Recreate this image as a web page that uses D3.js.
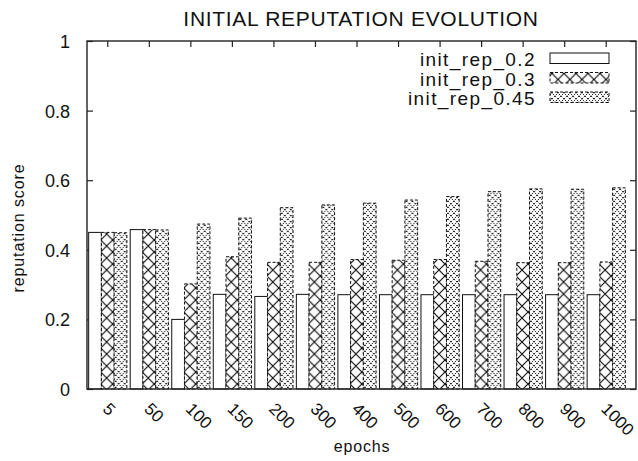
<!DOCTYPE html>
<html lang="en">
<head>
<meta charset="UTF-8">
<title>Initial reputation evolution</title>
<style>
  body { margin: 0; background: #fff; }
  svg text { font-family: "Liberation Sans", Arial, Helvetica, sans-serif; fill: #111; }
</style>
</head>
<body>
<div id="chart"></div>
<script src="https://d3js.org/d3.v7.min.js"></script>
<script>
// values
const epochs = ["5", "50", "100", "150", "200", "300", "400", "500", "600", "700", "800", "900", "1000"];
const seriesNames = ["init_rep_0.2", "init_rep_0.3", "init_rep_0.45"];
const rep02  = [0.450, 0.458, 0.200, 0.272, 0.266, 0.272, 0.271, 0.271, 0.271, 0.271, 0.271, 0.271, 0.271];
const rep03  = [0.450, 0.458, 0.302, 0.380, 0.364, 0.364, 0.372, 0.370, 0.372, 0.367, 0.363, 0.363, 0.365];
const rep045 = [0.449, 0.457, 0.474, 0.491, 0.521, 0.529, 0.534, 0.543, 0.553, 0.567, 0.575, 0.574, 0.578];
const yTicks = [0, 0.2, 0.4, 0.6, 0.8, 1];
const yTickLabels = ["0", "0.2", "0.4", "0.6", "0.8", "1"];

const width = 638, height = 461;
const frame = {left: 87, right: 636, top: 41, bottom: 389};

const svg = d3.select("#chart")
  .append("svg")
    .attr("width", width)
    .attr("height", height);

// fill patterns for the two hatched series
const defs = svg.append("defs");
const cross = defs.append("pattern")
    .attr("id", "cross")
    .attr("patternUnits", "userSpaceOnUse")
    .attr("width", 12).attr("height", 12);
cross.append("rect").attr("width", 12).attr("height", 12).attr("fill", "#fff");
cross.append("path")
    .attr("d", "M-1,-1L13,13M13,-1L-1,13")
    .attr("stroke", "#111").attr("stroke-width", 1.2);

const dense = defs.append("pattern")
    .attr("id", "dense")
    .attr("patternUnits", "userSpaceOnUse")
    .attr("width", 6).attr("height", 6);
dense.append("rect").attr("width", 6).attr("height", 6).attr("fill", "#fff");
dense.append("path")
    .attr("d", "M-1,-1L7,7M7,-1L-1,7")
    .attr("stroke", "#111").attr("stroke-width", 0.9)
    .attr("stroke-dasharray", "1.8,1");

const fills = ["#fff", "url(#cross)", "url(#dense)"];
const dashes = [null, "3,2", "3,2"];

// scales
const x = d3.scaleBand()
  .domain(epochs)
  .range([frame.left, 627])
  .paddingInner(0.08)
  .paddingOuter(0.04);
const xs = d3.scaleBand()
  .domain(seriesNames)
  .range([0, x.bandwidth()]);
const y = d3.scaleLinear()
  .domain([0, 1])
  .range([frame.bottom, frame.top]);

// axes, ticks pointing inward on all four sides
const leftAxis = svg.append("g")
    .attr("transform", `translate(${frame.left},0)`)
    .call(d3.axisLeft(y).tickValues(yTicks).tickFormat((d, i) => yTickLabels[i])
      .tickSizeInner(-6).tickSizeOuter(0).tickPadding(17))
    .attr("font-size", 18);
leftAxis.selectAll("text").attr("dy", "0.36em");

svg.append("g")
    .attr("transform", `translate(${frame.right},0)`)
    .call(d3.axisRight(y).tickValues(yTicks).tickFormat("").tickSizeInner(-6).tickSizeOuter(0));

svg.append("g")
    .attr("transform", `translate(0,${frame.top})`)
    .call(d3.axisTop(x).tickFormat("").tickSizeInner(-6).tickSizeOuter(0));

const bottomAxis = svg.append("g")
    .attr("transform", `translate(0,${frame.bottom})`)
    .call(d3.axisBottom(x).tickSizeInner(-6).tickSizeOuter(0))
    .attr("font-size", 17);
bottomAxis.selectAll("text")
    .attr("x", 0).attr("y", 0).attr("dy", 0)
    .attr("text-anchor", "start")
    .attr("transform", "translate(-6,21) rotate(45)");

svg.selectAll(".domain").remove();
svg.selectAll(".tick line").attr("stroke", "#222").attr("stroke-width", 1.2);

// bars
const table = epochs.map((e, i) => ({epoch: e, values: [rep02[i], rep03[i], rep045[i]]}));

const groups = svg.append("g")
  .selectAll("g")
  .data(table)
  .join("g")
    .attr("transform", d => `translate(${x(d.epoch)},0)`);

groups.selectAll("rect")
  .data(d => d.values.map((v, k) => ({name: seriesNames[k], k: k, value: v})))
  .join("rect")
    .attr("x", d => xs(d.name))
    .attr("y", d => y(d.value))
    .attr("width", xs.bandwidth())
    .attr("height", d => y(0) - y(d.value))
    .attr("fill", d => fills[d.k])
    .attr("stroke", "#111")
    .attr("stroke-width", 1)
    .attr("stroke-dasharray", d => dashes[d.k]);

// frame
svg.append("rect")
    .attr("x", frame.left).attr("y", frame.top)
    .attr("width", frame.right - frame.left)
    .attr("height", frame.bottom - frame.top)
    .attr("fill", "none")
    .attr("stroke", "#222")
    .attr("stroke-width", 1.4);

// legend
const legend = svg.append("g")
  .selectAll("g")
  .data(seriesNames)
  .join("g")
    .attr("transform", (d, i) => `translate(0,${66 + i * 19.5})`);

legend.append("text")
    .attr("x", 536)
    .attr("text-anchor", "end")
    .style("font-size", "19px")
    .style("letter-spacing", "1.4px")
    .text(d => d);

legend.append("rect")
    .attr("x", 550).attr("y", -13)
    .attr("width", 59).attr("height", 10.5)
    .attr("fill", (d, i) => fills[i])
    .attr("stroke", "#111")
    .attr("stroke-dasharray", (d, i) => dashes[i]);

// titles
svg.append("text")
    .attr("x", 361).attr("y", 26)
    .attr("text-anchor", "middle")
    .style("font-size", "21px")
    .style("letter-spacing", "0.7px")
    .text("INITIAL REPUTATION EVOLUTION");

svg.append("text")
    .attr("x", 362).attr("y", 452)
    .attr("text-anchor", "middle")
    .style("font-size", "16px")
    .style("letter-spacing", "0.8px")
    .text("epochs");

svg.append("text")
    .attr("transform", "translate(24,228) rotate(-90)")
    .attr("text-anchor", "middle")
    .style("font-size", "16px")
    .style("letter-spacing", "0.9px")
    .text("reputation score");
</script>
</body>
</html>
